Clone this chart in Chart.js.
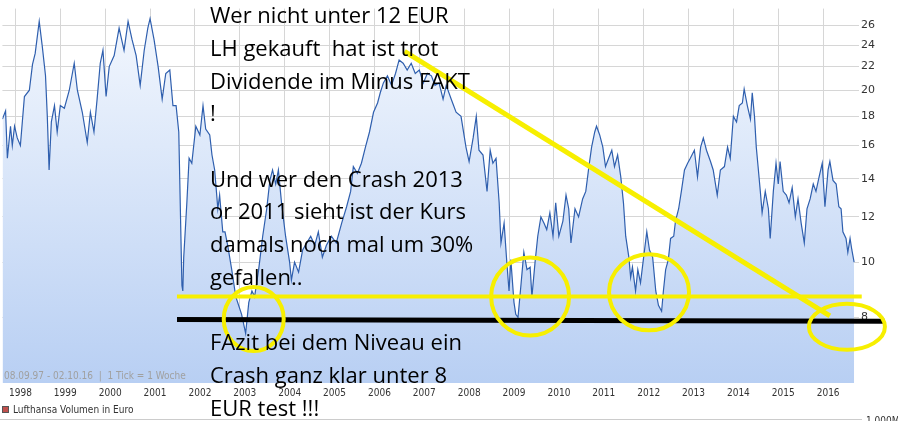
<!DOCTYPE html>
<html><head><meta charset="utf-8">
<script src="https://cdn.jsdelivr.net/npm/chart.js@4"></script>
<style>html,body{margin:0;padding:0;background:#fff;overflow:hidden}canvas{display:block}</style>
</head><body><canvas id="c" width="898" height="421" style="width:898px;height:421px"></canvas>
<script>
const years = [1997.71,1997.78,1997.82,1997.89,1997.93,1997.98,1998.04,1998.11,1998.20,1998.31,1998.38,1998.44,1998.53,1998.60,1998.67,1998.71,1998.75,1998.80,1998.87,1998.93,1999.00,1999.09,1999.20,1999.31,1999.38,1999.49,1999.60,1999.67,1999.75,1999.82,1999.89,1999.95,2000.02,2000.09,2000.20,2000.31,2000.42,2000.51,2000.60,2000.69,2000.78,2000.87,2000.95,2001.00,2001.09,2001.18,2001.27,2001.35,2001.44,2001.51,2001.58,2001.64,2001.71,2001.73,2001.75,2001.82,2001.87,2001.93,2002.02,2002.11,2002.18,2002.24,2002.33,2002.38,2002.44,2002.51,2002.55,2002.62,2002.67,2002.73,2002.82,2002.91,2003.04,2003.13,2003.20,2003.27,2003.33,2003.42,2003.51,2003.60,2003.67,2003.73,2003.80,2003.86,2003.93,2004.02,2004.11,2004.15,2004.22,2004.31,2004.40,2004.49,2004.58,2004.67,2004.75,2004.84,2004.93,2005.04,2005.15,2005.27,2005.38,2005.47,2005.53,2005.62,2005.71,2005.80,2005.89,2005.98,2006.07,2006.13,2006.20,2006.29,2006.38,2006.47,2006.55,2006.64,2006.73,2006.82,2006.91,2007.00,2007.09,2007.18,2007.27,2007.35,2007.44,2007.53,2007.60,2007.71,2007.82,2007.93,2008.04,2008.11,2008.20,2008.27,2008.33,2008.42,2008.51,2008.58,2008.64,2008.71,2008.78,2008.82,2008.89,2008.95,2009.00,2009.04,2009.11,2009.15,2009.20,2009.27,2009.33,2009.40,2009.47,2009.51,2009.58,2009.64,2009.71,2009.78,2009.84,2009.91,2009.98,2010.04,2010.11,2010.20,2010.27,2010.33,2010.38,2010.47,2010.55,2010.64,2010.71,2010.78,2010.84,2010.91,2010.95,2011.02,2011.09,2011.15,2011.22,2011.29,2011.35,2011.42,2011.49,2011.55,2011.60,2011.67,2011.71,2011.75,2011.82,2011.87,2011.93,2012.00,2012.07,2012.13,2012.20,2012.27,2012.33,2012.40,2012.44,2012.49,2012.55,2012.60,2012.67,2012.71,2012.78,2012.84,2012.91,2012.98,2013.04,2013.13,2013.20,2013.27,2013.33,2013.40,2013.49,2013.55,2013.64,2013.71,2013.80,2013.87,2013.93,2014.00,2014.07,2014.13,2014.20,2014.24,2014.31,2014.38,2014.42,2014.47,2014.51,2014.55,2014.60,2014.64,2014.71,2014.78,2014.82,2014.89,2014.95,2015.00,2015.04,2015.11,2015.18,2015.24,2015.31,2015.38,2015.44,2015.51,2015.58,2015.64,2015.71,2015.78,2015.84,2015.91,2015.98,2016.04,2016.11,2016.15,2016.22,2016.29,2016.35,2016.40,2016.44,2016.51,2016.55,2016.60,2016.64,2016.69];
const prices = [17.8,18.4,15.2,17.3,16,17.3,16.5,16,19.5,20,22.2,23.2,26.4,23.8,21.2,18,14.5,17.6,18.8,16.9,18.8,18.6,20,22.3,20,18.3,16.2,18.3,16.9,19.3,22.3,23.5,19.5,22,23,25.7,23.5,26.4,24.5,23,20.4,23.5,25.7,26.7,24.5,22,19.3,21.4,21.7,18.8,18.8,16.9,9.1,8.9,10.2,12.7,15.2,14.9,17.3,16.7,18.8,17.1,16.7,15.4,14.5,12.4,13.1,11.3,11.3,10.7,9.7,8.7,8.1,7.5,8.5,8.9,8.7,9.7,11.1,12.4,13.9,14.5,13.7,14.5,12.7,11.1,10,9.3,10,9.6,10.5,10.8,11.1,10.7,11.3,10.2,10.7,11.1,10.8,11.7,12.5,13.3,14.7,14.3,14.9,15.9,16.9,18.3,19,19.8,20.6,21.2,20.4,21.4,22.6,22.3,21.7,22.3,21.4,21.7,20.6,21.4,21.2,20.4,20.6,19.3,20.4,19.3,18.3,18,15.9,15,16.5,18,15.7,15.4,13.3,15.7,14.9,15.2,12.7,10.8,11.7,10,8.9,10.1,8.5,8.1,8,9.2,10.4,9.7,9.8,8.7,10,11.1,12,11.7,11.4,12.2,11.1,12.7,11.1,11.8,13.1,12.4,10.8,12.4,12,12.9,13.3,14.7,15.9,16.9,17.3,16.7,15.9,14.7,15.2,15.7,14.7,15.4,14.1,12.7,11.1,10.2,9.4,9.8,8.9,9.7,9.2,10.2,11.3,10.5,10.2,8.9,8.4,8.2,8.9,9.7,10.1,11,11.1,11.8,12.4,13.3,14.5,14.9,15.2,15.7,14.1,15.9,16.5,15.7,15,14.5,13.1,14.5,14.7,15.9,15.2,18,17.6,18.8,19,20.1,18.8,17.8,19.8,18,15.9,14.7,13.3,12.2,13.3,12.4,11,13.3,14.9,13.7,15,13.3,13.1,12.7,13.5,12,12.9,11.7,10.8,12.4,12.9,13.7,13.3,14.1,14.9,12.5,14.5,15,13.9,13.7,12.5,12.4,11.3,11,10.4,11,10.5,10];
const yearTicks = [1998,1999,2000,2001,2002,2003,2004,2005,2006,2007,2008,2009,2010,2011,2012,2013,2014,2015,2016];
const priceTicks = [8,10,12,14,16,18,20,22,24,26];
const noteLines = ["Wer nicht unter 12 EUR","LH gekauft  hat ist trot","Dividende im Minus FAKT","!","","Und wer den Crash 2013","or 2011 sieht ist der Kurs","damals noch mal um 30%","gefallen..","","FAzit bei dem Niveau ein","Crash ganz klar unter 8","EUR test !!!"];
const circles = [[2003.31,7.95,30,32],[2009.47,8.7,39,39],[2012.12,8.85,40,38],[2016.53,7.7,38,23]];

const overlay = {
  id:'overlay',
  afterDraw(chart){
    const ctx=chart.ctx, xs=chart.scales.x, ys=chart.scales.y;
    const X=v=>xs.getPixelForValue(v), Y=v=>ys.getPixelForValue(v);
    ctx.save();
    ctx.fillStyle='#a0a0a0'; ctx.font='10px "DejaVu Sans Condensed", "Liberation Sans Narrow", sans-serif';
    ctx.textBaseline='middle';
    ctx.fillText('08.09.97 - 02.10.16  |  1 Tick = 1 Woche',4,376);
    ctx.strokeStyle='#000'; ctx.lineWidth=5; ctx.lineCap='butt';
    ctx.beginPath(); ctx.moveTo(X(2001.6),Y(7.93)); ctx.lineTo(X(2017.37),Y(7.88)); ctx.stroke();
    ctx.strokeStyle='#f7ef00'; ctx.lineWidth=4;
    ctx.beginPath(); ctx.moveTo(X(2001.6),Y(8.7)); ctx.lineTo(X(2016.86),Y(8.7)); ctx.stroke();
    ctx.lineWidth=5;
    ctx.beginPath(); ctx.moveTo(X(2006.67),Y(23.4)); ctx.lineTo(X(2016.15),Y(8.05)); ctx.stroke();
    ctx.lineWidth=4;
    circles.forEach(c=>{ctx.beginPath(); ctx.ellipse(X(c[0]),Y(c[1]),c[2],c[3],0,0,Math.PI*2); ctx.stroke();});
    ctx.fillStyle='#000'; ctx.font='22px "Open Sans", sans-serif'; ctx.textBaseline='middle';
    noteLines.forEach((t,i)=>{ if(t) ctx.fillText(t,210,17+i*32.7); });
    ctx.fillStyle='#c0504d'; ctx.fillRect(2,406,7,7);
    ctx.strokeStyle='#555'; ctx.lineWidth=1; ctx.strokeRect(2.5,406.5,6,6);
    ctx.fillStyle='#333'; ctx.font='10px "DejaVu Sans Condensed", sans-serif';
    ctx.fillText('Lufthansa Volumen in Euro',13,410);
    ctx.fillText('1.000M',866,421);
    ctx.strokeStyle='#ccc'; ctx.beginPath(); ctx.moveTo(0,419.5); ctx.lineTo(862,419.5); ctx.stroke();
    ctx.restore();
  }
};

new Chart(document.getElementById('c'),{
  type:'line',
  data:{datasets:[{data:years.map((y,i)=>({x:y,y:prices[i]})),borderColor:'#2f5fae',borderWidth:1.2,pointRadius:0,tension:0,
    fill:'start',
    backgroundColor:(ctx)=>{const a=ctx.chart.chartArea; if(!a) return '#dfe9f8';
      const g=ctx.chart.ctx.createLinearGradient(0,a.top,0,a.bottom); g.addColorStop(0,'#f4f8fe'); g.addColorStop(1,'#b8cff3'); return g;}}]},
  options:{responsive:false,animation:false,devicePixelRatio:1,
    layout:{padding:0},
    plugins:{legend:{display:false},tooltip:{enabled:false}},
    scales:{
      x:{type:'linear',min:1997.71,max:2016.71,
        afterBuildTicks:s=>{s.ticks=yearTicks.map(v=>({value:v}));},
        afterFit:s=>{s.height=38;},
        grid:{color:'#d6d6d6',drawTicks:false},border:{display:false},
        ticks:{color:'#333',font:{size:10,family:'"DejaVu Sans Condensed", sans-serif'},padding:4,labelOffset:5,maxRotation:0,autoSkip:false,callback:v=>String(v)}},
      y:{type:'logarithmic',position:'right',min:6.14,max:27.8,
        afterBuildTicks:s=>{s.ticks=priceTicks.map(v=>({value:v}));},
        afterFit:s=>{s.width=43;},
        grid:{color:'#d6d6d6',drawTicks:true,tickLength:4},border:{display:false},
        ticks:{color:'#333',font:{size:11,family:'"DejaVu Sans", sans-serif'},padding:2,callback:v=>String(v)}}
    }},
  plugins:[overlay]
});
</script></body></html>
